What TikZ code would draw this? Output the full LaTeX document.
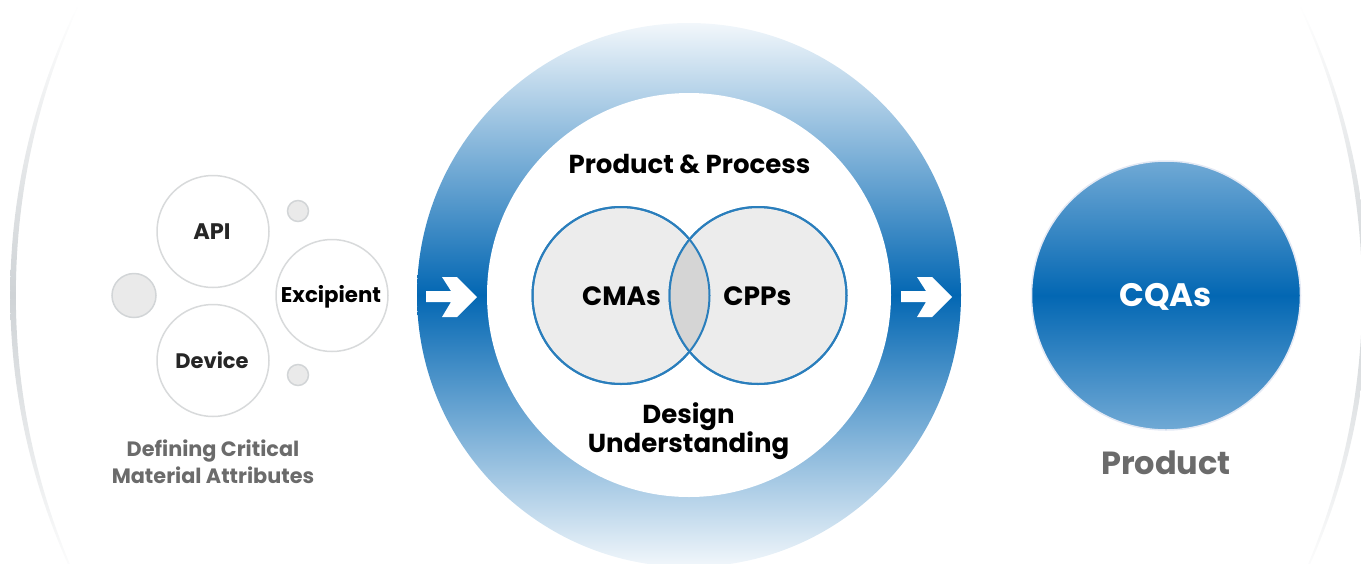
\documentclass[tikz,border=0pt]{standalone}
\usepackage{fontspec}
\setmainfont{Poppins}
\definecolor{ringblue}{HTML}{0367B3}
\definecolor{ringfade}{HTML}{F2F7FB}
\definecolor{cqatop}{HTML}{70A9D5}
\definecolor{arcgrey}{HTML}{CFD3D6}
\definecolor{softline}{HTML}{D8DADB}
\definecolor{dotfill}{HTML}{EAEAEA}
\definecolor{dotline}{HTML}{D2D5D7}
\definecolor{vennline}{HTML}{2A7EBC}
\definecolor{vennfill}{HTML}{ECECEC}
\definecolor{vennmid}{HTML}{D5D5D5}
\definecolor{cqaline}{HTML}{E4E9F4}
\definecolor{labelgrey}{HTML}{6B6B6B}
\tikzset{
  bubble/.style={circle,draw=softline,line width=1.5pt,fill=white,minimum size=112pt,inner sep=0pt},
  dot/.style={circle,draw=dotline,line width=1.5pt,fill=dotfill,inner sep=0pt},
  venncircle/.style={circle,draw=vennline,line width=2pt,fill=vennfill,minimum size=177pt,inner sep=0pt},
  vennlabel/.style={font=\fontsize{26.5}{30}\selectfont\bfseries,text=black},
  headline/.style={font=\fontsize{26}{26}\selectfont\bfseries,text=black,align=center},
  greylabel/.style={text=labelgrey,align=center,font=\fontsize{20.8}{27}\selectfont\bfseries},
  crescent/.style={shade,top color=white,bottom color=white,middle color=arcgrey},
  whitearrow/.style={fill=white}
}
\begin{document}
\begin{tikzpicture}[x=1pt,y=-1pt]
\useasboundingbox (0,0) rectangle (1361,563);
\clip (0,0) rectangle (1361,563);
% side crescents, concentric with the ring
\path[crescent] plot[domain=-25.5:25.5,samples=61] ({689-(676+2.8*cos(3*\x))*cos(\x)},{295+(676+2.8*cos(3*\x))*sin(\x)})
  -- plot[domain=25.5:-25.5,samples=61] ({689-(676-2.8*cos(3*\x))*cos(\x)},{295+(676-2.8*cos(3*\x))*sin(\x)}) -- cycle;
\path[crescent] plot[domain=-25.5:25.5,samples=61] ({689+(676+2.8*cos(3*\x))*cos(\x)},{295+(676+2.8*cos(3*\x))*sin(\x)})
  -- plot[domain=25.5:-25.5,samples=61] ({689+(676-2.8*cos(3*\x))*cos(\x)},{295+(676-2.8*cos(3*\x))*sin(\x)}) -- cycle;
% ring
\node[circle,minimum size=544pt,inner sep=0pt,top color=ringfade,bottom color=ringfade,middle color=ringblue] (ring) at (689,295) {};
\node[circle,minimum size=404pt,inner sep=0pt,fill=white] (core) at (689,295) {};
% arrows
\fill[whitearrow] (426,291) -- (451,291) -- (442,277) -- (457,277) -- (477,297) -- (457,317) -- (442,317) -- (451,302) -- (426,302) -- cycle;
\fill[whitearrow] (901,291) -- (926,291) -- (917,277) -- (932,277) -- (952,297) -- (932,317) -- (917,317) -- (926,302) -- (901,302) -- cycle;
% left cluster
\node[bubble] (api) at (213,231.5) {};
\node[font=\fontsize{22.5}{24}\selectfont\bfseries,text=black!85] (apitext) at (212,232) {API};
\node[bubble] (device) at (213,360.5) {};
\node[font=\fontsize{21}{24}\selectfont\bfseries,text=black!85] (devicetext) at (212,360.5) {Device};
\node[bubble] (excipient) at (332,295.5) {};
\node[font=\fontsize{21.3}{24}\selectfont\bfseries,text=black] (excipienttext) at (331,297) {Excipient};
\node[dot,minimum size=44pt] (dotbig) at (134,295.5) {};
\node[dot,minimum size=21pt] (dottop) at (298,211) {};
\node[dot,minimum size=21pt] (dotbottom) at (298,375) {};
\node[greylabel] (defining) at (213,462) {Defining Critical\\Material Attributes};
% venn
\node[venncircle] (cmas) at (621,295.5) {};
\node[venncircle] (cpps) at (758,295.5) {};
\begin{scope}
  \clip (621,295.5) circle (88.5);
  \fill[vennmid] (758,295.5) circle (88.5);
\end{scope}
\draw[vennline,line width=2pt] (621,295.5) circle (88.5);
\draw[vennline,line width=2pt] (758,295.5) circle (88.5);
\node[vennlabel] (cmastext) at (621.5,296) {CMAs};
\node[vennlabel] (cppstext) at (757.5,296) {CPPs};
\node[headline] (pp) at (689.5,164) {Product \& Process};
\node[headline] (du) at (688.5,431) {Design\\Understanding};
% product
\node[circle,minimum size=269pt,inner sep=0pt,draw=cqaline,line width=1.5pt,top color=cqatop,bottom color=cqatop,middle color=ringblue] (cqas) at (1166,295.5) {};
\node[text=white,font=\fontsize{32.5}{34}\selectfont\bfseries] (cqastext) at (1165.5,297) {CQAs};
\node[text=labelgrey,font=\fontsize{32}{36}\selectfont\bfseries] (product) at (1166,463) {Product};
\end{tikzpicture}
\end{document}
